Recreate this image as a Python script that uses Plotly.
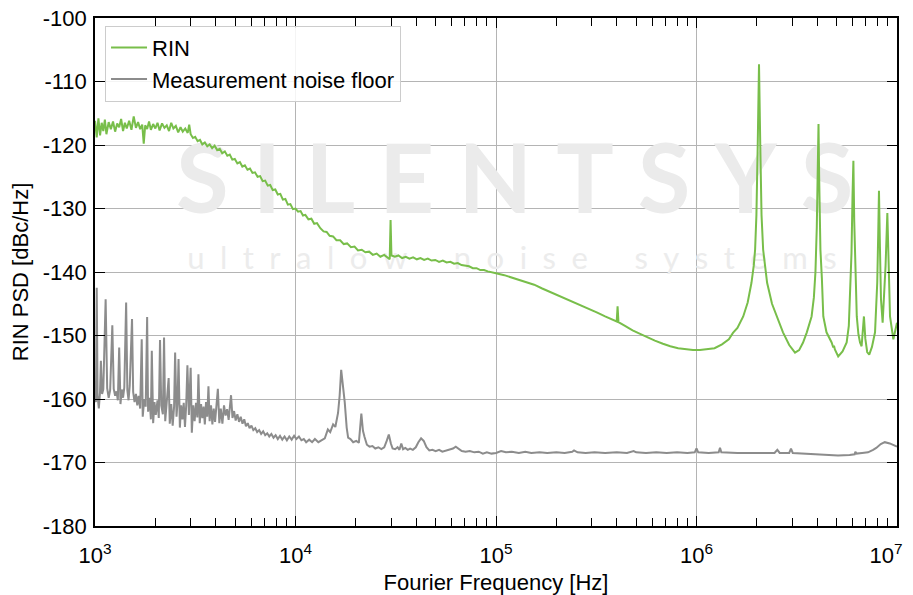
import plotly.graph_objects as go

# ---------------- data ----------------
rin_freq = [
    1000, 1020, 1040, 1060, 1080, 1100, 1120, 1140, 1170, 1200, 1230, 1260, 1290, 1320, 1350,
    1380, 1410, 1440, 1480, 1520, 1560, 1600, 1640, 1680, 1720, 1750, 1780, 1820, 1860, 1900,
    1950, 2000, 2050, 2100, 2160, 2220, 2280, 2340, 2400, 2460, 2530, 2600, 2670, 2740, 2820,
    2900, 2950, 3000, 3080, 3160, 3250, 3340, 3430, 3530, 3630, 3730, 3840, 3950, 4070, 4190,
    4310, 4440, 4570, 4700, 4840, 4980, 5130, 5280, 5430, 5590, 5760, 5930, 6100, 6280, 6470,
    6660, 6860, 7060, 7270, 7480, 7700, 7930, 8160, 8400, 8650, 8900, 9160, 9430, 9710, 10000,
    10300, 10600, 10900, 11200, 11600, 12000, 12400, 12800, 13300, 13800, 14300, 14800, 15400,
    16000, 16700, 17400, 18100, 18900, 19700, 20500, 21400, 22300, 23300, 24300, 25400, 26500,
    27700, 28900, 29500, 29800, 30100, 31300, 32600, 34000, 35500, 37000, 38600, 40300, 42000,
    43800, 45700, 47700, 49800, 52000, 54300, 56700, 59200, 61800, 64500, 67300, 70300, 73400,
    76600, 80000, 83500, 87200, 91000, 95000, 100000,
    110000, 120000, 130000, 140000, 155000, 170000, 185000, 200000, 220000, 240000, 265000,
    290000, 320000, 350000, 380000, 400000, 404000, 408000, 440000, 480000, 520000, 570000,
    620000, 680000, 740000, 810000, 880000, 960000, 1040000, 1130000, 1230000, 1340000, 1450000,
    1520000, 1600000, 1710000, 1800000, 1880000, 1930000, 1960000, 1990000, 2020000, 2050000,
    2080000, 2110000, 2150000, 2200000, 2250000, 2380000, 2520000, 2700000, 2900000, 3100000,
    3250000, 3400000, 3550000, 3750000, 3850000, 3920000, 3980000, 4030000, 4060000, 4090000,
    4150000, 4220000, 4290000, 4450000, 4720000, 4810000, 4850000, 4900000, 5090000, 5350000,
    5610000, 5750000, 5830000, 5930000, 6000000, 6060000, 6120000, 6200000, 6300000, 6420000,
    6540000, 6660000, 6750000, 6840000, 6950000, 7100000, 7270000, 7500000, 7770000, 7970000,
    8060000, 8130000, 8220000, 8320000, 8480000, 8650000, 8770000, 8950000, 9100000, 9230000,
    9590000, 10000000,
]
rin_db = [
    -116.2, -118.8, -115.8, -118.5, -116.5, -117.8, -116.0, -118.3, -116.4, -117.5, -116.3, -117.9, -116.6, -117.2, -115.9,
    -117.8, -116.5, -117.4, -116.2, -117.6, -115.5, -117.3, -116.4, -117.5, -116.8, -119.8, -116.9, -117.5, -116.3, -117.6,
    -116.7, -117.4, -116.5, -117.7, -116.6, -117.3, -116.9, -117.8, -116.5, -117.4, -117.0, -118.0, -117.2, -117.9, -117.4,
    -118.1, -116.8, -118.3, -118.9, -118.7, -119.4, -119.2, -119.9, -119.6, -120.2, -119.9, -120.5, -120.1, -120.8, -120.6,
    -121.3, -121.0, -121.7, -121.5, -122.3, -122.2, -122.9, -122.7, -123.4, -123.2, -123.9, -123.7, -124.4, -124.3, -125.0,
    -124.9, -125.7, -125.6, -126.4, -126.3, -127.1, -127.0, -127.8, -127.7, -128.6, -128.5, -129.4, -129.3, -130.1, -130.0,
    -130.5, -130.4, -131.1, -131.0, -131.7, -131.6, -132.4, -132.3, -133.1, -133.6, -133.7, -134.3, -134.4,
    -135.0, -135.0, -135.6, -135.5, -136.1, -136.0, -136.6, -136.5, -136.9, -136.8, -137.3, -137.1, -137.6,
    -137.3, -137.7, -138.0, -131.8, -137.4, -137.6, -137.4, -137.8, -137.6, -137.9, -137.7, -138.0, -137.8,
    -138.1, -137.9, -138.2, -138.1, -138.4, -138.2, -138.5, -138.4, -138.7, -138.6, -138.9, -139.0, -139.1,
    -139.4, -139.4, -139.7, -139.7, -139.9, -140.0, -140.2,
    -140.5, -140.9, -141.2, -141.6, -142.0, -142.6, -143.1, -143.6, -144.2, -144.7, -145.3,
    -145.8, -146.4, -147.0, -147.5, -147.8, -145.4, -147.9, -148.5, -149.2, -149.7, -150.3,
    -150.8, -151.3, -151.7, -152.0, -152.2, -152.3, -152.3, -152.2, -152.0, -151.4, -150.6,
    -149.6, -148.8, -147.0, -144.8, -141.7, -139.0, -136.5, -131.0, -120.0, -107.3,
    -120.0, -131.0, -136.5, -139.5, -141.7, -145.0, -147.0, -149.5, -151.5, -152.7,
    -152.3, -151.1, -149.5, -147.0, -144.0, -140.0, -133.0, -122.0, -116.7, -125.0,
    -136.5, -141.0, -147.0, -149.5, -151.1, -151.9, -151.6, -152.2, -153.3, -152.5,
    -151.1, -148.5, -144.3, -137.0, -128.0, -122.5, -132.0, -141.0, -147.0, -149.8,
    -151.1, -151.7, -149.5, -147.0, -150.5, -152.6, -153.0, -151.8, -149.5, -141.7,
    -134.0, -127.2, -136.0, -144.3, -148.0, -142.5, -139.0, -130.7, -140.0, -147.0,
    -150.6, -148.0,
]

floor_freq = [
    1000, 1010, 1020, 1030, 1045, 1060, 1070, 1085, 1100, 1130, 1150, 1170, 1190, 1220, 1240,
    1260, 1280, 1300, 1320, 1340, 1360, 1380, 1400, 1430, 1450, 1470, 1490, 1530, 1550, 1575,
    1600, 1625, 1650, 1680, 1710, 1730, 1760, 1790, 1820, 1840, 1870, 1900, 1920, 1950, 1980,
    2010, 2050, 2080, 2110, 2140, 2180, 2210, 2240, 2280, 2330, 2360, 2400, 2440, 2480, 2510,
    2550, 2580, 2610, 2650, 2690, 2730, 2770, 2810, 2850, 2890, 2940, 3000, 3040, 3090, 3140,
    3190, 3240, 3280, 3330, 3380, 3430, 3480, 3530, 3580, 3630, 3680, 3730, 3790, 3850, 3910,
    3970, 4030, 4100, 4170, 4240, 4320, 4400, 4480, 4560, 4640, 4770, 4850, 4940, 5030, 5130,
    5230, 5330, 5440, 5550, 5660, 5780, 5900, 6030, 6160, 6300, 6440, 6590, 6740, 6900, 7060,
    7230, 7400, 7580, 7770, 7960, 8160, 8370, 8590, 8820, 9060, 9310, 9570, 9840, 10100, 10400,
    10700, 11000, 11300, 11700, 12100, 12500, 13000, 13500, 14000, 14500, 14900, 15400, 15800,
    16300, 16600, 16900, 17200, 17600, 18000, 18300, 18800, 19400, 20100, 20700, 21300, 21700,
    22100, 22700, 23400, 24200, 25000, 25900, 26800, 27700, 28500, 29200, 29900, 30500, 31400,
    32300, 33000, 33700, 34400, 35300, 36300, 37300, 38500, 39800, 41000, 42300, 43600, 45000,
    46500, 48200, 50000, 52000, 54000, 56500, 59000, 61000, 63000, 65000, 67500, 70500, 74000,
    78000, 82000, 86000, 90000, 95000, 100000, 106000, 112000, 120000, 130000, 140000, 150000,
    165000, 180000, 200000, 220000, 240000, 245000, 255000, 280000, 310000, 350000, 400000,
    450000, 486000, 500000, 560000, 630000, 710000, 800000, 900000, 980000, 1000000, 1020000,
    1150000, 1290000, 1310000, 1330000, 1600000, 2000000, 2450000, 2530000, 2600000, 2900000,
    2960000, 3020000, 3400000, 3750000, 4300000, 5080000, 5800000, 6150000, 6200000, 6280000,
    6700000, 7170000, 7600000, 7880000, 8300000, 8690000, 9200000, 9750000, 10000000,
]
floor_db = [
    -158.0, -160.5, -142.5, -159.5, -161.5, -158.8, -154.0, -159.2, -158.5, -144.3, -158.3, -159.8, -158.6, -148.4, -158.4,
    -159.5, -158.8, -160.2, -151.9, -160.8, -158.5, -159.8, -158.2, -144.8, -158.6, -160.2, -157.9, -147.4, -158.9, -160.5,
    -159.2, -161.0, -159.5, -161.5, -150.6, -162.8, -160.0, -161.2, -147.1, -162.0, -159.8, -163.2, -152.4, -163.8, -160.5,
    -162.5, -160.2, -163.0, -150.7, -161.0, -162.4, -150.3, -163.5, -160.3, -156.7, -163.9, -160.8, -164.2, -161.2, -152.7,
    -162.8, -160.5, -153.7, -164.5, -161.0, -163.2, -160.6, -164.4, -161.0, -154.7, -162.5, -155.1, -165.3, -161.0, -163.5,
    -160.6, -162.9, -156.1, -163.8, -160.8, -163.0, -161.2, -164.0, -160.5, -162.8, -158.0, -163.5, -161.0, -164.0, -161.5,
    -163.6, -161.2, -158.4, -163.8, -161.5, -163.9, -161.0, -162.6, -161.6, -163.3, -159.4, -163.0, -161.9, -163.4, -162.4,
    -163.6, -162.8, -163.9, -163.2, -164.3, -163.8, -164.6, -164.2, -164.9, -164.6, -165.2, -164.9, -165.5, -165.1, -165.7,
    -165.4, -165.9, -165.5, -166.1, -165.7, -166.3, -165.8, -166.4, -165.9, -166.5, -165.9, -166.4, -165.8, -166.3, -165.9,
    -166.5, -166.3, -166.8, -166.4, -166.8, -166.3, -166.8, -166.5, -166.2, -164.8, -165.2, -164.0, -164.4,
    -162.2, -159.5, -155.4, -157.5, -160.5, -164.5, -166.1, -166.3, -166.8, -166.6, -166.9, -162.3, -165.0,
    -166.0, -167.2, -167.5, -167.4, -167.8, -167.6, -167.9, -167.6, -166.6, -165.6, -167.0, -167.8, -167.9,
    -167.6, -168.0, -167.0, -167.9, -167.7, -168.0, -167.8, -168.0, -167.6, -166.8, -166.2, -166.6, -167.6,
    -168.1, -168.0, -168.2, -168.0, -168.3, -168.1, -168.0, -167.8, -167.5, -167.8, -168.2, -168.3, -168.2,
    -168.4, -168.3, -168.6, -168.4, -168.6, -168.5, -168.2, -168.4, -168.3, -168.5, -168.3, -168.5,
    -168.4, -168.5, -168.4, -168.5, -168.3, -168.1, -168.4, -168.5, -168.4, -168.5, -168.4,
    -168.5, -168.2, -168.4, -168.5, -168.4, -168.5, -168.4, -168.5, -168.4, -167.8, -168.4,
    -168.5, -168.4, -167.7, -168.4, -168.5, -168.5, -168.5, -168.0, -168.5, -168.5,
    -167.8, -168.5, -168.6, -168.7, -168.8, -168.9, -168.8, -168.7, -168.3, -168.6,
    -168.5, -168.4, -168.0, -167.7, -167.1, -166.8, -167.0, -167.4, -167.5,
]

x_tickvals = [1e3, 1e4, 1e5, 1e6, 1e7]
x_ticktext = ["10<sup>3</sup>", "10<sup>4</sup>", "10<sup>5</sup>", "10<sup>6</sup>",
              "10<sup>7</sup>\u2003"]
y_tickvals = [-180, -170, -160, -150, -140, -130, -120, -110, -100]
y_ticktext = ["-180", "-170", "-160", "-150", "-140", "-130", "-120", "-110", "-100"]

GREEN = "#78be4a"
GRAY = "#8c8c8c"
FONT = "Liberation Sans, Arial, sans-serif"
FS = 22

fig = go.Figure()

# faint watermark (behind the curves)
fig.add_trace(go.Scatter(
    x=[1.24e5], y=[-127.0], mode="text",
    text=["S\u2005I\u2005L\u2005E\u2005N\u2005T\u2005S\u2005Y\u2005S"],
    textfont=dict(family="Lato", size=96, color="#ebebeb", weight="bold"),
    showlegend=False, hoverinfo="skip",
))
fig.add_trace(go.Scatter(
    x=[1.2e5], y=[-138.3], mode="text",
    text=["u\u2002l\u2002t\u2002r\u2002a\u2002l\u2002o\u2002w\u2002\u2002\u2002n\u2002o\u2002i\u2002s\u2002e\u2002\u2002\u2002s\u2002y\u2002s\u2002t\u2002e\u2002m\u2002s"],
    textfont=dict(family="Lato", size=31, color="#ececec"),
    showlegend=False, hoverinfo="skip",
))

fig.add_trace(go.Scatter(
    x=rin_freq, y=rin_db, mode="lines", name="RIN",
    line=dict(color=GREEN, width=2),
))
fig.add_trace(go.Scatter(
    x=floor_freq, y=floor_db, mode="lines", name="Measurement noise floor",
    line=dict(color=GRAY, width=2),
))

fig.update_layout(
    width=905, height=587,
    margin=dict(l=87, r=16, t=10, b=69, autoexpand=False),
    paper_bgcolor="white", plot_bgcolor="white",
    font=dict(family=FONT, size=FS, color="black"),
    showlegend=True,
    legend=dict(
        x=0.0125, y=0.985, xanchor="left", yanchor="top",
        bgcolor="rgba(255,255,255,0.85)", bordercolor="#cccccc", borderwidth=1,
        font=dict(family=FONT, size=FS, color="black"),
        itemwidth=36, tracegroupgap=0,
    ),
    xaxis=dict(
        type="log", range=[3, 7], automargin=False,
        tickvals=x_tickvals, ticktext=x_ticktext,
        ticks="inside", ticklen=10, tickwidth=1.2, tickcolor="black",
        ticklabelstandoff=9, ticklabeloverflow="allow",
        showline=True, linecolor="black", linewidth=1.5, mirror="ticks",
        showgrid=True, gridcolor="#b4b4b4", gridwidth=1.3,
        zeroline=False,
        minor=dict(ticks="inside", ticklen=8, tickwidth=1, tickcolor="black",
                   dtick="D1", showgrid=False),
        title=dict(text="Fourier Frequency [Hz]", font=dict(family=FONT, size=FS), standoff=9),
        tickfont=dict(family=FONT, size=FS),
    ),
    yaxis=dict(
        range=[-180, -100], automargin=False,
        tickvals=y_tickvals, ticktext=y_ticktext,
        ticks="inside", ticklen=10, tickwidth=1.2, tickcolor="black",
        ticklabelstandoff=2, ticklabeloverflow="allow",
        showline=True, linecolor="black", linewidth=1.5, mirror="ticks",
        showgrid=True, gridcolor="#b4b4b4", gridwidth=1.3,
        zeroline=False,
        title=dict(text="RIN PSD [dBc/Hz]", font=dict(family=FONT, size=FS), standoff=12),
        tickfont=dict(family=FONT, size=FS),
    ),
)

fig.write_html("out.html")
